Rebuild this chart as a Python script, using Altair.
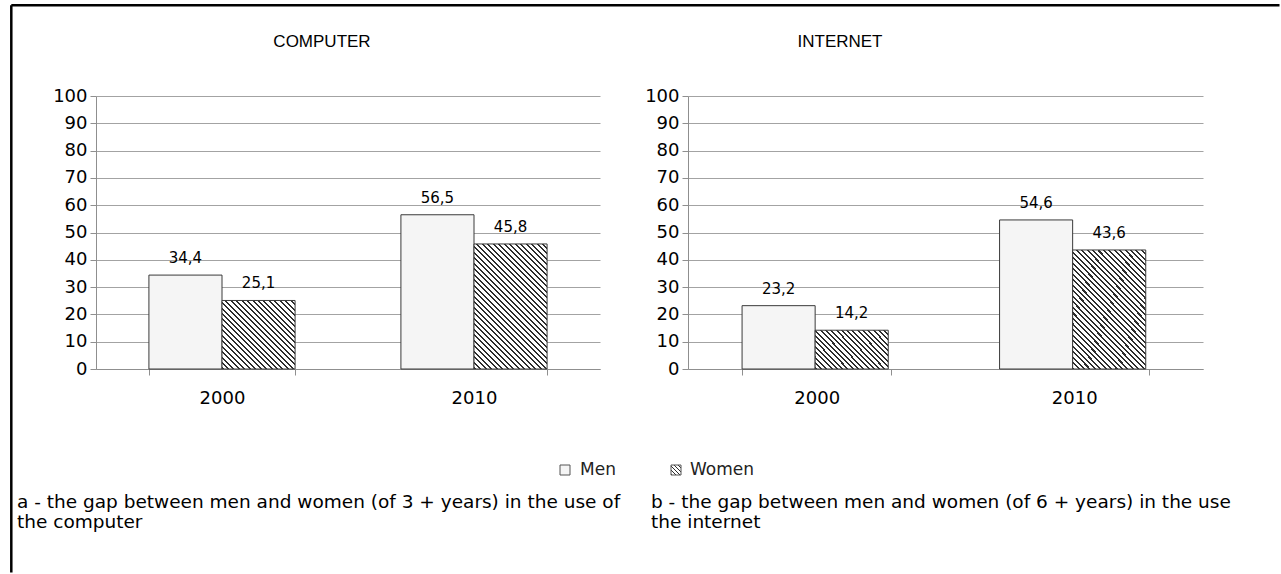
import altair as alt
import pandas as pd

# ---- data ----
years = ["2000", "2010"]
series = ["Men", "Women"]
computer_men = [34.4, 56.5]
computer_women = [25.1, 45.8]
internet_men = [23.2, 54.6]
internet_women = [14.2, 43.6]
y_ticks = [0, 10, 20, 30, 40, 50, 60, 70, 80, 90, 100]
panel_titles = ["COMPUTER", "INTERNET"]
caption_a = ["a - the gap between men and women (of 3 + years) in the use of", "the computer"]
caption_b = ["b - the gap between men and women (of 6 + years) in the use", "the internet"]

# ---- layout / style ----
PLOT_H = 273
LEFT_W = 504
RIGHT_W = 515
PAD_IN = 0.42
PAD_OUT = 0.21
AXIS_FONT = "DejaVu Sans"
TEXT_FONT = "Liberation Sans"
GRID = "#a3a3a3"
DOMAIN = "#8f8f8f"
BAR_STROKE = "#3a3a3a"
MEN_FILL = "#f5f5f5"


def hatch(w, h, period=3.9, frac=0.38, dark="#2e2e2e", light="#ffffff"):
    """Diagonal (top-left to bottom-right) 45 degree stripes as a linear gradient."""
    k = (w + h) / (w * w + h * h)
    n = max(1, round((w + h) / (2 ** 0.5 * period)))
    stops = []
    for i in range(n):
        a, b, c = i / n, (i + frac) / n, (i + 1) / n
        stops += [
            alt.GradientStop(offset=a, color=dark),
            alt.GradientStop(offset=b, color=dark),
            alt.GradientStop(offset=b, color=light),
            alt.GradientStop(offset=c, color=light),
        ]
    return alt.LinearGradient(gradient="linear", stops=stops, x1=0, y1=1, x2=k * w, y2=1 - k * h)


def panel(men, women, width, title, title_x, extra=()):
    df = pd.DataFrame({
        "year": years * 2,
        "sex": [series[0]] * len(years) + [series[1]] * len(years),
        "value": list(men) + list(women),
    })
    base = alt.Chart(df).encode(
        x=alt.X("year:N",
                scale=alt.Scale(domain=years, paddingInner=PAD_IN, paddingOuter=PAD_OUT),
                axis=alt.Axis(title=None, labelAngle=0, grid=False, domainColor=DOMAIN,
                              tickColor=DOMAIN, tickBand="extent", tickSize=6,
                              labelPadding=14, labelFont=AXIS_FONT, labelFontSize=18,
                              labelColor="black")),
        xOffset=alt.XOffset("sex:N", scale=alt.Scale(domain=series, paddingInner=0, paddingOuter=0)),
        y=alt.Y("value:Q", scale=alt.Scale(domain=[0, 100]),
                axis=alt.Axis(title=None, values=y_ticks, grid=True, gridColor=GRID,
                              domainColor=DOMAIN, tickColor=DOMAIN, tickSize=6,
                              labelPadding=3, labelFont=AXIS_FONT, labelFontSize=18,
                              labelColor="black")),
    )
    bar_w = width / 2 * (1 - PAD_IN) / 2
    layers = [
        base.transform_filter(alt.datum.sex == series[0]).mark_bar(
            fill=MEN_FILL, stroke=BAR_STROKE, strokeWidth=1)
    ]
    for yr, v in zip(years, women):
        layers.append(
            base.transform_filter((alt.datum.sex == series[1]) & (alt.datum.year == yr)).mark_bar(
                fill=hatch(bar_w, v * PLOT_H / 100), stroke=BAR_STROKE, strokeWidth=1)
        )
    layers.append(
        base.transform_calculate(label="replace(format(datum.value, '.1f'), '.', ',')")
        .mark_text(dy=-17, baseline="middle", font=AXIS_FONT, fontSize=15, color="black")
        .encode(text="label:N")
    )
    layers.append(
        alt.Chart(pd.DataFrame({"t": [title]})).mark_text(
            font=TEXT_FONT, fontSize=17, baseline="middle", align="center", color="black")
        .encode(x=alt.value(title_x), y=alt.value(-54), text="t:N")
    )
    layers += list(extra)
    return alt.layer(*layers).properties(width=width, height=PLOT_H)


one = pd.DataFrame({"k": [0]})

# border of the page (top and left edges)
border_top = alt.Chart(one).mark_rule(color="black", strokeWidth=2.5).encode(
    x=alt.value(-84.7), x2=alt.value(1183.5), y=alt.value(-90.7))
border_left = alt.Chart(one).mark_rule(color="black", strokeWidth=2.5).encode(
    x=alt.value(-84.7), y=alt.value(-90.7), y2=alt.value(476.5))

# legend
leg_men_box = alt.Chart(one).mark_rect(fill=MEN_FILL, stroke="#555555", strokeWidth=1).encode(
    x=alt.value(464), x2=alt.value(474), y=alt.value(369), y2=alt.value(379))
leg_women_box = alt.Chart(one).mark_rect(fill=hatch(10, 10, period=2.6), stroke="#555555", strokeWidth=1).encode(
    x=alt.value(575), x2=alt.value(585), y=alt.value(369), y2=alt.value(379))
leg_men_txt = alt.Chart(one).mark_text(align="left", baseline="middle", font=AXIS_FONT, fontSize=17, color="#222").encode(
    x=alt.value(484), y=alt.value(374), text=alt.value(series[0]))
leg_women_txt = alt.Chart(one).mark_text(align="left", baseline="middle", font=AXIS_FONT, fontSize=17, color="#222").encode(
    x=alt.value(594), y=alt.value(374), text=alt.value(series[1]))

# captions
CAP_FONT = "DejaVu Sans"
cap_a = alt.Chart(one).mark_text(align="left", baseline="alphabetic", font=CAP_FONT, fontSize=18.5,
                                 lineHeight=20, color="black").encode(
    x=alt.value(-79), y=alt.value(412), text=alt.value(caption_a))
cap_b = alt.Chart(one).mark_text(align="left", baseline="alphabetic", font=CAP_FONT, fontSize=18.5,
                                 lineHeight=20, color="black").encode(
    x=alt.value(555), y=alt.value(412), text=alt.value(caption_b))

left = panel(computer_men, computer_women, LEFT_W, panel_titles[0], 226,
             extra=(border_top, border_left, leg_men_box, leg_women_box, leg_men_txt, leg_women_txt,
                    cap_a, cap_b))
right = panel(internet_men, internet_women, RIGHT_W, panel_titles[1], 152)

chart = alt.hconcat(left, right, spacing=88, bounds="flush").configure_view(stroke=None).properties(
    padding={"left": 10, "top": 4, "right": 0, "bottom": 0}, background="white")

chart.save("out.html", embed_options={"renderer": "svg", "actions": False})
